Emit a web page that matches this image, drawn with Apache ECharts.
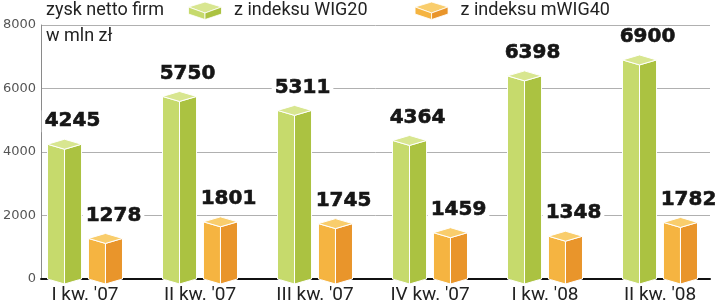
<!DOCTYPE html>
<html><head><meta charset="utf-8">
<script src="https://cdn.jsdelivr.net/npm/echarts@6/dist/echarts.min.js"></script>
<style>html,body{margin:0;padding:0;background:#fff}#c{width:720px;height:307px}</style>
</head><body><div id="c"></div>
<script>
const categories = ["I kw. '07", "II kw. '07", "III kw. '07", "IV kw. '07", "I kw. '08", "II kw. '08"];
const wig20 = [4245, 5750, 5311, 4364, 6398, 6900];
const mwig40 = [1278, 1801, 1745, 1459, 1348, 1782];
const seriesNames = ['z indeksu WIG20', 'z indeksu mWIG40'];
const yMin = 0, yMax = 8000, yInterval = 2000;

const COLORS = {
  green: { left: '#c6da6c', right: '#abc241', top: '#d8e690' },
  orange: { left: '#f5b441', right: '#e9952b', top: '#f9cd6c' }
};

function iconUri(c) {
  const svg = '<svg xmlns="http://www.w3.org/2000/svg" width="34" height="19" viewBox="0 0 34 19">' +
    '<g stroke="#fff" stroke-width="0.8">' +
    '<polygon points="0.5,6 17,1 33.5,6 17,12" fill="' + c.top + '"/>' +
    '<polygon points="0.5,6 17,12 17,18.5 0.5,13" fill="' + c.left + '"/>' +
    '<polygon points="17,12 33.5,6 33.5,13 17,18.5" fill="' + c.right + '"/>' +
    '</g></svg>';
  return 'image://data:image/svg+xml;charset=utf-8,' + encodeURIComponent(svg);
}

function makeRender(offsetFrac, col) {
  return function (params, api) {
    const idx = api.value(0), val = api.value(1);
    const top = api.coord([idx, val]);
    const base = api.coord([idx, 0]);
    const band = api.size([1, 0])[0];
    const cx = top[0] + offsetFrac * band;
    const hw = 0.148 * band;
    const d = 5;
    const t = top[1], b = base[1];
    const stroke = { stroke: '#fff', lineWidth: 1 };
    return {
      type: 'group',
      children: [
        { type: 'polygon', shape: { points: [[cx - hw, t], [cx, t + d], [cx, b + d], [cx - hw, b]] }, style: Object.assign({ fill: col.left }, stroke) },
        { type: 'polygon', shape: { points: [[cx, t + d], [cx + hw, t], [cx + hw, b], [cx, b + d]] }, style: Object.assign({ fill: col.right }, stroke) },
        { type: 'polygon', shape: { points: [[cx - hw, t], [cx, t - d], [cx + hw, t], [cx, t + d]] }, style: Object.assign({ fill: col.top }, stroke) },
        { type: 'text', z2: 10, x: cx + 8, y: t - 23, style: {
            text: String(val), fill: '#161616', stroke: '#161616', lineWidth: 0.6,
            font: 'bold 20px "DejaVu Sans"',
            align: 'center', verticalAlign: 'middle', backgroundColor: '#fff', padding: [1, 3] } }
      ]
    };
  };
}

const chart = echarts.init(document.getElementById('c'), null, { renderer: 'canvas' });
chart.setOption({
  animation: false,
  backgroundColor: '#fff',
  title: [
    { text: 'zysk netto firm', left: 46, top: 1, padding: 0,
      textStyle: { fontFamily: 'Roboto', fontSize: 18, fontWeight: 'normal', color: '#222' } },
    { text: 'w mln zł', left: 46, top: 27, padding: 0,
      textStyle: { fontFamily: 'Roboto', fontSize: 18, fontWeight: 'normal', color: '#222' } }
  ],
  legend: {
    left: 188, top: 1, padding: 0, itemWidth: 34, itemHeight: 19, itemGap: 47,
    data: [
      { name: seriesNames[0], icon: iconUri(COLORS.green) },
      { name: seriesNames[1], icon: iconUri(COLORS.orange) }
    ],
    textStyle: { fontFamily: 'Roboto', fontSize: 18, color: '#222', padding: [2, 0, 0, 7] }
  },
  grid: [
    { left: 27.5, width: 690, top: 25, height: 254 },
    { left: 40, right: 10, top: 25, height: 254 }
  ],
  xAxis: [
    { type: 'category', gridIndex: 0, data: categories,
      axisLine: { show: false }, axisTick: { show: false }, splitLine: { show: false },
      axisLabel: { margin: 7, fontFamily: 'Roboto', fontSize: 19, color: '#222' } },
    { type: 'value', gridIndex: 1, min: 0, max: 1,
      axisLine: { show: true, onZero: false, lineStyle: { color: '#111', width: 2 } },
      axisTick: { show: false }, axisLabel: { show: false }, splitLine: { show: false } }
  ],
  yAxis: [
    { type: 'value', gridIndex: 0, min: yMin, max: yMax, interval: yInterval, show: false },
    { type: 'value', gridIndex: 1, min: yMin, max: yMax, interval: yInterval,
      axisLine: { show: true, onZero: false, lineStyle: { color: '#8a8a8a', width: 1 } },
      axisTick: { show: false },
      splitLine: { show: true, lineStyle: { color: '#b0b0b0', width: 1 } },
      axisLabel: { margin: 5, fontFamily: 'DejaVu Sans', fontSize: 13, color: '#555',
        formatter: function (v) { return String(v); } } }
  ],
  series: [
    { name: seriesNames[0], type: 'custom', xAxisIndex: 0, yAxisIndex: 0, z: 3,
      renderItem: makeRender(-0.178, COLORS.green), encode: { x: 0, y: 1 },
      data: wig20.map((v, i) => [i, v]) },
    { name: seriesNames[1], type: 'custom', xAxisIndex: 0, yAxisIndex: 0, z: 3,
      renderItem: makeRender(0.178, COLORS.orange), encode: { x: 0, y: 1 },
      data: mwig40.map((v, i) => [i, v]) }
  ]
});
</script></body></html>
